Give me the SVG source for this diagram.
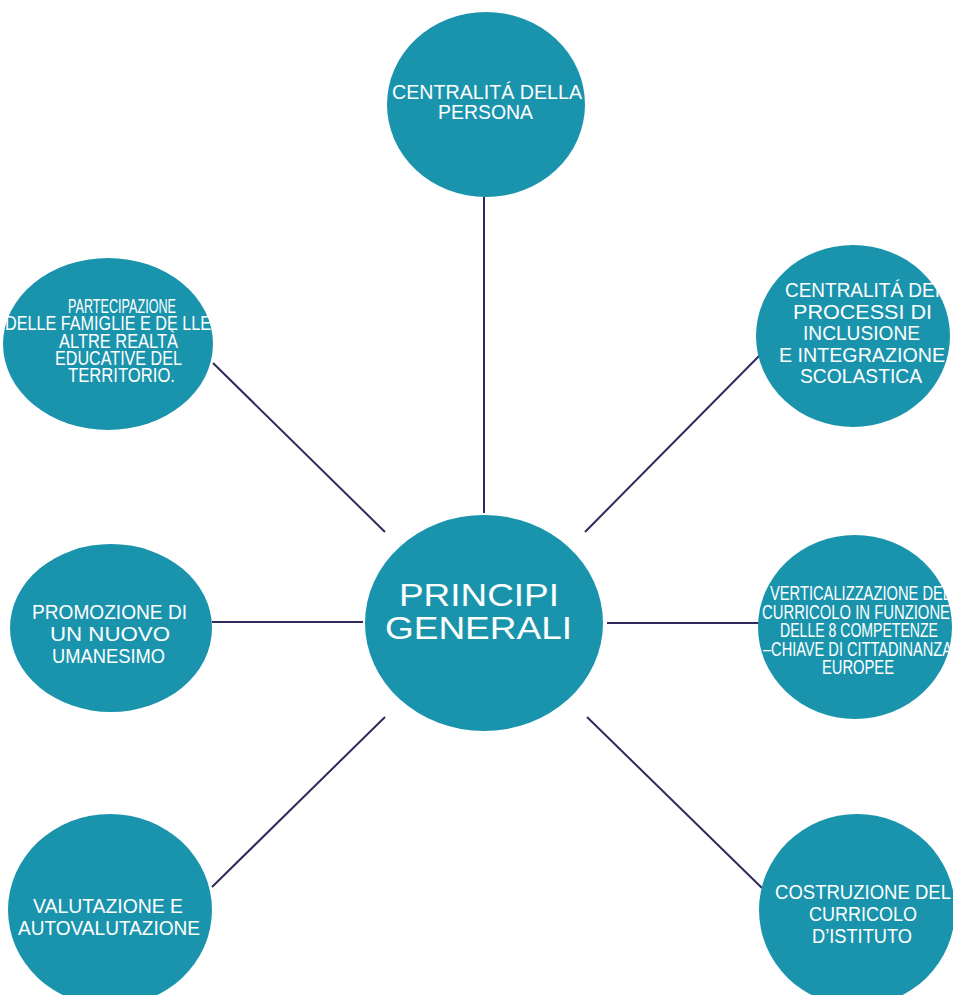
<svg xmlns="http://www.w3.org/2000/svg" width="953" height="995" viewBox="0 0 953 995">
  <style>
    .node { fill: #1a94ad; }
    .lbl { fill: #ffffff; font-family: "Liberation Sans", Arial, sans-serif; font-size: 21px; }
    .lbl-sm { fill: #ffffff; font-family: "Liberation Sans", Arial, sans-serif; font-size: 20px; }
    .lbl-big { fill: #ffffff; font-family: "Liberation Sans", Arial, sans-serif; font-size: 31px; }
    .link { stroke: #2e2a5e; stroke-width: 2; fill: none; }
  </style>
  <rect width="953" height="995" fill="#ffffff"/>

  <!-- spokes from the hub to each principle -->
  <g id="connectors">
    <line class="link" x1="484" y1="197" x2="484" y2="513"/>
    <line class="link" x1="213" y1="363" x2="385" y2="532"/>
    <line class="link" x1="760" y1="355" x2="585" y2="532"/>
    <line class="link" x1="212" y1="622" x2="363" y2="622"/>
    <line class="link" x1="607" y1="623" x2="760" y2="623"/>
    <line class="link" x1="385" y1="717" x2="212" y2="887"/>
    <line class="link" x1="587" y1="717" x2="762" y2="888"/>
  </g>

  <g id="hub">
    <ellipse class="node" cx="484" cy="623" rx="119" ry="108"/>
    <text class="lbl-big" x="399" y="606" textLength="160" lengthAdjust="spacingAndGlyphs">PRINCIPI</text>
    <text class="lbl-big" x="385" y="639" textLength="187" lengthAdjust="spacingAndGlyphs">GENERALI</text>
  </g>

  <g id="persona">
    <ellipse class="node" cx="486" cy="104.5" rx="99" ry="92.5"/>
    <text class="lbl" x="392" y="99" textLength="190" lengthAdjust="spacingAndGlyphs">CENTRALITÁ DELLA</text>
    <text class="lbl" x="438" y="119" textLength="95" lengthAdjust="spacingAndGlyphs">PERSONA</text>
  </g>

  <g id="partecipazione">
    <ellipse class="node" cx="108" cy="344" rx="105" ry="86"/>
    <text class="lbl-sm" x="68" y="313" textLength="108" lengthAdjust="spacingAndGlyphs">PARTECIPAZIONE</text>
    <text class="lbl-sm" x="5" y="330" textLength="206" lengthAdjust="spacingAndGlyphs">DELLE FAMIGLIE E DE LLE</text>
    <text class="lbl-sm" x="59" y="347.5" textLength="119" lengthAdjust="spacingAndGlyphs">ALTRE REALTÀ</text>
    <text class="lbl-sm" x="55" y="365" textLength="127" lengthAdjust="spacingAndGlyphs">EDUCATIVE DEL</text>
    <text class="lbl-sm" x="68" y="382" textLength="107" lengthAdjust="spacingAndGlyphs">TERRITORIO.</text>
  </g>

  <g id="inclusione">
    <ellipse class="node" cx="853" cy="336" rx="97" ry="91"/>
    <text class="lbl" x="785" y="297" textLength="155" lengthAdjust="spacingAndGlyphs">CENTRALITÁ DEI</text>
    <text class="lbl" x="793" y="318.5" textLength="139" lengthAdjust="spacingAndGlyphs">PROCESSI DI</text>
    <text class="lbl" x="803" y="340" textLength="117" lengthAdjust="spacingAndGlyphs">INCLUSIONE</text>
    <text class="lbl" x="779" y="361.5" textLength="166" lengthAdjust="spacingAndGlyphs">E INTEGRAZIONE</text>
    <text class="lbl" x="800" y="383" textLength="122" lengthAdjust="spacingAndGlyphs">SCOLASTICA</text>
  </g>

  <g id="umanesimo">
    <ellipse class="node" cx="111" cy="628" rx="101" ry="84"/>
    <text class="lbl" x="32" y="619" textLength="155" lengthAdjust="spacingAndGlyphs">PROMOZIONE DI</text>
    <text class="lbl" x="50" y="641" textLength="120" lengthAdjust="spacingAndGlyphs">UN NUOVO</text>
    <text class="lbl" x="52" y="663" textLength="113" lengthAdjust="spacingAndGlyphs">UMANESIMO</text>
  </g>

  <g id="verticalizzazione">
    <ellipse class="node" cx="855" cy="627" rx="97" ry="92"/>
    <text class="lbl-sm" x="770" y="600" textLength="181" lengthAdjust="spacingAndGlyphs">VERTICALIZZAZIONE DEL</text>
    <text class="lbl-sm" x="762" y="618.5" textLength="188" lengthAdjust="spacingAndGlyphs">CURRICOLO IN FUNZIONE</text>
    <text class="lbl-sm" x="780" y="637" textLength="158" lengthAdjust="spacingAndGlyphs">DELLE 8 COMPETENZE</text>
    <text class="lbl-sm" x="763" y="655.5" textLength="189" lengthAdjust="spacingAndGlyphs">–CHIAVE DI CITTADINANZA</text>
    <text class="lbl-sm" x="822" y="674" textLength="72" lengthAdjust="spacingAndGlyphs">EUROPEE</text>
  </g>

  <g id="valutazione">
    <ellipse class="node" cx="110" cy="910" rx="102" ry="96"/>
    <text class="lbl" x="33" y="913" textLength="150" lengthAdjust="spacingAndGlyphs">VALUTAZIONE E</text>
    <text class="lbl" x="18" y="935" textLength="182" lengthAdjust="spacingAndGlyphs">AUTOVALUTAZIONE</text>
  </g>

  <g id="curricolo">
    <ellipse class="node" cx="857" cy="910" rx="98" ry="96"/>
    <text class="lbl" x="775" y="899" textLength="176" lengthAdjust="spacingAndGlyphs">COSTRUZIONE DEL</text>
    <text class="lbl" x="809" y="921" textLength="108" lengthAdjust="spacingAndGlyphs">CURRICOLO</text>
    <text class="lbl" x="812" y="943" textLength="100" lengthAdjust="spacingAndGlyphs">D’ISTITUTO</text>
  </g>
</svg>
